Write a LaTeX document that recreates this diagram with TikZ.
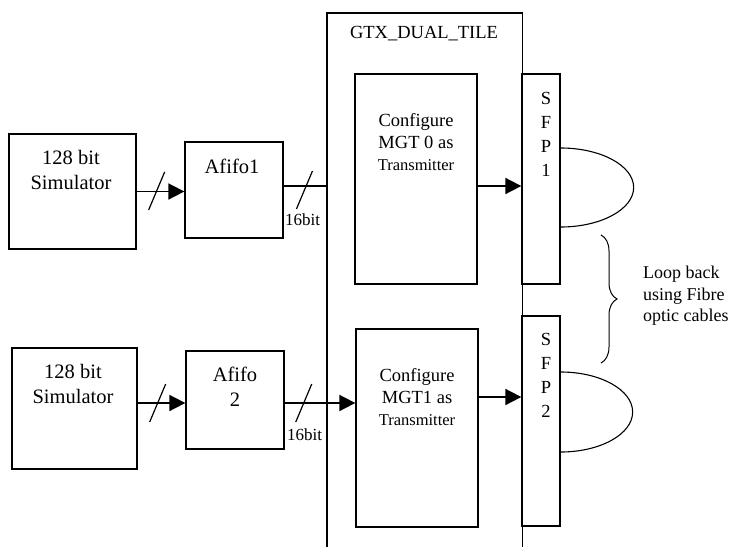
\documentclass[tikz,border=0pt]{standalone}
\usepackage{fontspec}
\setmainfont{Liberation Serif}
\usetikzlibrary{arrows.meta, calc, positioning, decorations.pathreplacing}
\tikzset{
  block/.style={rectangle, draw=black, line width=1.3pt, inner sep=0pt},
  flow/.style={-{Triangle[length=16pt, width=16pt]}, line width=1.8pt},
  bus/.style={line width=1.8pt},
  buscut/.style={line width=1.2pt},
  cable/.style={line width=1.1pt},
  bigtext/.style={align=center, font=\fontsize{20.5}{25}\selectfont},
  gtxtext/.style={align=center, font=\fontsize{18.5}{22}\selectfont},
  bitlabel/.style={font=\fontsize{17}{20}\selectfont, inner sep=0pt}
}

\begin{document}
\begin{tikzpicture}[x=1pt, y=-1pt]
        \useasboundingbox (0,0) rectangle (730,546);
        % Input side
        \node[block, minimum width=127, minimum height=115] (sim1) at (72.5,191.5) {};
        \node[bigtext] (sim1txt) at (71,170) {128 bit\\Simulator};
        \node[block, minimum width=98, minimum height=96] (afifo1) at (234,190) {};
        \node[bigtext] (afifo1txt) at (232,166) {Afifo1};
        \node[block, minimum width=125, minimum height=121] (sim2) at (74.5,408.5) {};
        \node[bigtext] (sim2txt) at (73,384) {128 bit\\Simulator};
        \node[block, minimum width=98, minimum height=98] (afifo2) at (235,400) {};
        \node[bigtext] (afifo2txt) at (235,387) {Afifo\\2};

        % GTX tile, open at the bottom
        \node[minimum width=195, minimum height=536, inner sep=0pt, anchor=north west] (gtx) at (327,13) {};
        \draw[line width=1.3pt] (gtx.south west) -- (gtx.north west) -- (gtx.north east) -- (gtx.south east);
        \node[gtxtext] (gtxtitle) at (424,34) {GTX\_DUAL\_TILE};
        \node[block, minimum width=122, minimum height=210] (mgt0) at (416,179) {};
        \node[gtxtext] (mgt0txt) at (416,142) {Configure\\MGT 0 as\\{\fontsize{16.5}{22}\selectfont Transmitter}};
        \node[block, minimum width=122, minimum height=198] (mgt1) at (417,428) {};
        \node[gtxtext] (mgt1txt) at (417,397) {Configure\\MGT1 as\\{\fontsize{16.5}{22}\selectfont Transmitter}};

        % SFP ports
        \node[block, minimum width=38, minimum height=210] (sfp1) at (541,179) {};
        \node[align=center, font=\fontsize{18.5}{24}\selectfont] (sfp1txt) at (546,134) {S\\F\\P\\1};
        \node[block, minimum width=38, minimum height=210] (sfp2) at (541,421) {};
        \node[align=center, font=\fontsize{18.5}{24}\selectfont] (sfp2txt) at (546,375.5) {S\\F\\P\\2};

        % Data path
        \draw[flow] (sim1.east) -- (sim1.east -| afifo1.west);
        \draw[buscut] ($(sim1.east)!0.42!(afifo1.west)$) +(-8,19) -- +(8,-19);
        \draw[bus] ([yshift=4]afifo1.east) -- ([yshift=4]afifo1.east -| gtx.west);
        \draw[buscut] ($(afifo1.east)!0.48!(afifo1.east -| gtx.west)$) +(-8,19) -- +(8,-19);
        \node[bitlabel, anchor=west] (bw1) at (285,220) {16bit};
        \draw[flow] ([yshift=5.5]sim2.east) -- ([yshift=5.5]sim2.east -| afifo2.west);
        \draw[buscut] ($([yshift=5.5]sim2.east)!0.42!([yshift=5.5]sim2.east -| afifo2.west)$) +(-8,19) -- +(8,-19);
        \draw[flow] ([yshift=-3]afifo2.east) -- ([yshift=-3]afifo2.east -| mgt1.west);
        \draw[buscut] ($([yshift=-3]afifo2.east)!0.27!([yshift=-3]afifo2.east -| mgt1.west)$) +(-8,19) -- +(8,-19);
        \node[bitlabel, anchor=west] (bw2) at (287,435) {16bit};
        \draw[flow] ([yshift=-7]mgt0.east) -- ([yshift=-7]mgt0.east -| sfp1.west);
        \draw[flow] ([yshift=31]mgt1.east) -- ([yshift=31]mgt1.east -| sfp2.west);

        % Fibre loops
        \draw[cable] (sfp1.east |- 0,148) arc[start angle=-90, end angle=90, x radius=73, y radius=39.5];
        \draw[cable] (sfp2.east |- 0,372) arc[start angle=-90, end angle=90, x radius=72, y radius=40];
        \coordinate (bracetop) at (601,235);
        \coordinate (bracebot) at (601,363);
        \draw[line width=1pt, decorate, decoration={brace, amplitude=16pt}] (bracetop) -- (bracebot);
        \node[align=left, anchor=west, font=\fontsize{18}{21.5}\selectfont, inner sep=0pt] (looptxt) at (643,296) {Loop back\\using Fibre\\optic cables};

    \end{tikzpicture}
\end{document}
